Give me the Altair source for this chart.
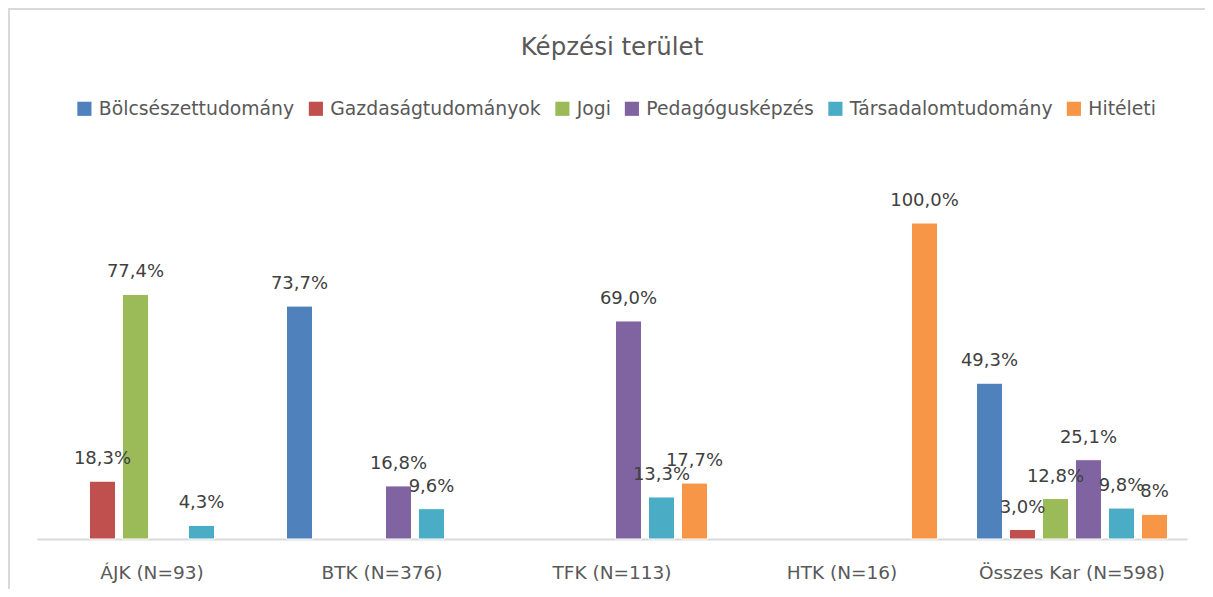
import altair as alt
import pandas as pd

groups = ["ÁJK (N=93)", "BTK (N=376)", "TFK (N=113)", "HTK (N=16)", "Összes Kar (N=598)"]
series = ["Bölcsészettudomány", "Gazdaságtudományok", "Jogi", "Pedagógusképzés", "Társadalomtudomány", "Hitéleti"]
colors = ["#4f81bd", "#c0504d", "#9bbb59", "#8064a2", "#4bacc6", "#f79646"]
chart_title = "Képzési terület"

# values per group, in series order (None = no bar)
ajk = [None, 18.3, 77.4, None, 4.3, None]
btk = [73.7, None, None, 16.8, 9.6, None]
tfk = [None, None, None, 69.0, 13.3, 17.7]
htk = [None, None, None, None, None, 100.0]
osszes = [49.3, 3.0, 12.8, 25.1, 9.8, 7.8]
osszes_labels = ["49,3%", "3,0%", "12,8%", "25,1%", "9,8%", "8%"]

rows = []
for g, vals in zip(groups, [ajk, btk, tfk, htk, osszes]):
    for i, (s, v) in enumerate(zip(series, vals)):
        if v is None:
            continue
        if g == groups[-1]:
            lab = osszes_labels[i]
        else:
            lab = f"{v:.1f}%".replace(".", ",")
        rows.append({"group": g, "series": s, "value": v, "label": lab})
df = pd.DataFrame(rows)

FONT = "DejaVu Sans"
W, H = 1150, 316

x = alt.X("group:N", sort=groups, title=None,
          scale=alt.Scale(paddingInner=0, paddingOuter=0),
          axis=alt.Axis(labelFontSize=18.5, labelColor="#595959", labelFont=FONT,
                        labelPadding=24, ticks=False, domainColor="#d9d9d9",
                        domainWidth=2, labelAngle=0, labelLimit=0, grid=False))
xo = alt.XOffset("series:N", sort=series,
                 scale=alt.Scale(paddingInner=0.21, paddingOuter=0.59))
y = alt.Y("value:Q", scale=alt.Scale(domain=[0, 100]), axis=None)

bars = alt.Chart(df).mark_bar(stroke="white", strokeWidth=1).encode(
    x=x, xOffset=xo, y=y,
    color=alt.Color("series:N", sort=series,
                    scale=alt.Scale(domain=series, range=colors),
                    legend=alt.Legend(title=None, orient="none", direction="horizontal",
                                      columns=6, legendX=38, legendY=-124,
                                      symbolType="square", symbolSize=200,
                                      symbolStrokeWidth=0, labelFontSize=18.8,
                                      labelFont=FONT, labelColor="#595959",
                                      labelLimit=0, columnPadding=11.5, labelOffset=5)),
)

labels = alt.Chart(df).mark_text(baseline="alphabetic", dy=-17, fontSize=18,
                                 font=FONT, color="#404040").encode(
    x=x, xOffset=xo, y=y, text="label:N"
)

title = alt.Chart(pd.DataFrame({"t": [chart_title]})).mark_text(
    fontSize=24.5, font=FONT, color="#595959", baseline="alphabetic", align="center"
).encode(x=alt.value(575), y=alt.value(-168), text="t:N")

border_top = alt.Chart(df).mark_rule(color="#d9d9d9", strokeWidth=2).encode(
    x=alt.value(-29), x2=alt.value(W + 18), y=alt.value(-214)
)
border_left = alt.Chart(df).mark_rule(color="#d9d9d9", strokeWidth=2).encode(
    x=alt.value(-28), y=alt.value(-214), y2=alt.value(H + 60)
)

chart = alt.layer(border_top, border_left, title, bars, labels).properties(
    width=W, height=H,
    padding={"left": 29, "top": 215, "right": 18, "bottom": 50},
    autosize=alt.AutoSizeParams(type="none"),
).configure(background="white").configure_view(strokeWidth=0, stroke="transparent")

chart.save("out.html", embed_options={"renderer": "svg", "actions": False})
